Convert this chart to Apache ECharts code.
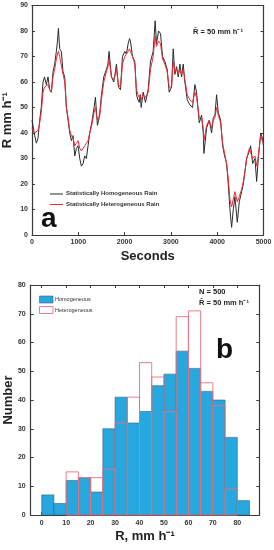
<!DOCTYPE html>
<html><head><meta charset="utf-8">
<script src="https://cdn.jsdelivr.net/npm/echarts@6/dist/echarts.min.js"></script>
<style>html,body{margin:0;padding:0;background:#fff}#c{width:274px;height:550px}</style>
</head><body><div id="c"></div>
<script>
// ---- Panel a: rain-rate time series ----
var times = [0,22,58,95,130,166,200,238,270,310,346,382,418,454,490,526,550,570,598,634,670,707,743,779,815,851,887,923,959,995,1031,1067,1103,1139,1175,1211,1247,1290,1341,1370,1413,1440,1464,1500,1550,1608,1640,1665,1716,1766,1800,1824,1867,1911,1954,2004,2040,2076,2106,2127,2170,2221,2257,2290,2314,2340,2358,2401,2451,2509,2559,2617,2660,2689,2733,2776,2819,2870,2920,2963,3014,3050,3086,3122,3158,3194,3230,3266,3302,3353,3410,3468,3518,3554,3612,3663,3699,3713,3771,3828,3879,3915,3951,3987,4023,4074,4117,4160,4203,4239,4275,4311,4347,4383,4434,4477,4528,4564,4600,4636,4694,4722,4766,4816,4852,4888,4939,4975,5000];
var homogRain = [45,45,39,36,38,45,50,60,62,59,62,57,56,64,67,72,76,81,73,72,64,62,50,45,40,37,39,31,34,35,30,27,28,31,30,35,40,44,50,54,43,45,48,55,62,65,67,72,62,60,64,67,58,57,70,72,71,75,77,76,70,68,55,53,52,55,50,56,52,57,68,72,84,75,80,79,70,68,65,56,58,73,63,66,62,67,62,67,60,53,51,50,59,56,44,47,40,32,42,45,40,46,47,55,48,45,35,31,28,20,10,3,10,15,5,13,17,20,25,30,33,35,28,30,21,30,40,38,35];
var heterogRain = [42,41,40,40,41,44,48,56,58,58,59,57,56,62,65,69,71,72,70,70,63,60,50,46,41,39,38,35,36,37,34,33,33,35,36,37,40,43,48,50,45,46,47,53,60,64,66,69,62,61,63,65,59,58,67,70,70,72,73,72,70,67,57,55,54,55,53,55,54,56,65,70,78,74,76,75,69,67,64,58,58,68,64,65,63,65,63,65,61,55,53,52,56,54,46,46,42,37,43,45,42,45,46,50,47,44,36,32,28,22,14,11,14,17,13,15,18,21,25,30,34,34,30,31,27,31,39,37,36];
var timeTicks = [0,1000,2000,3000,4000,5000];
var rateTicks = [0,10,20,30,40,50,60,70,80,90];

// ---- Panel b: histogram ----
var binStarts = [0,5,10,15,20,25,30,35,40,45,50,55,60,65,70,75,80];
var binWidth = 5;
var homogCounts = [7,4,12,13,8,30,41,32,36,45,49,57,51,43,40,27,5];
var heterogCounts = [0,0,15,13,13,16,32,41,53,48,36,69,71,46,38,9,0];
var rateBinTicks = [0,10,20,30,40,50,60,70,80];
var countTicks = [0,10,20,30,40,50,60,70,80];

var FONT = 'Liberation Sans, Arial, sans-serif';
var AX = '#3a3a3a';
var lblStyle = {color:'#333', fontSize:7, fontWeight:'bold', fontFamily:FONT, formatter:function(v){return String(v);}};
function boxAxis(gridIndex, pos, min, max, custom) {
  var a = {type:'value', gridIndex:gridIndex, position:pos, min:min, max:max,
    axisLine:{show:true, onZero:false, lineStyle:{color:AX, width:1.2}},
    axisTick:{show:true, inside:true, length:3, lineStyle:{color:AX}, customValues:custom},
    axisLabel:{show:false}, splitLine:{show:false}};
  return a;
}

var hist = [];
for (var i = 0; i < binStarts.length; i++) hist.push([binStarts[i], binStarts[i] + binWidth, homogCounts[i], heterogCounts[i]]);

function rectItem(api, valIdx) {
  var x0 = api.value(0), x1 = api.value(1), v = api.value(valIdx);
  var p0 = api.coord([x0, v]), p1 = api.coord([x1, 0]);
  return {x: p0[0], y: p0[1], width: p1[0] - p0[0], height: p1[1] - p0[1]};
}
var nameStyle = {fontSize:13, fontWeight:'bold', color:'#222', fontFamily:FONT};

var chart = echarts.init(document.getElementById('c'), null, {renderer:'canvas'});
var xa0 = boxAxis(0, 'bottom', 0, 5000, timeTicks);
xa0.axisLabel = Object.assign({show:true, margin:4, customValues:timeTicks}, lblStyle);
xa0.name = 'Seconds'; xa0.nameLocation = 'middle'; xa0.nameGap = 15; xa0.nameTextStyle = nameStyle; xa0.nameMoveOverlap = false;
var ya0 = boxAxis(0, 'left', 0, 90, rateTicks);
ya0.axisLabel = Object.assign({show:true, margin:4, customValues:rateTicks}, lblStyle);
ya0.name = 'R mm h\u207B\u00B9'; ya0.nameLocation = 'middle'; ya0.nameGap = 18; ya0.nameTextStyle = nameStyle; ya0.nameMoveOverlap = false;

var xa2 = boxAxis(1, 'bottom', -4.5, 89, rateBinTicks);
xa2.axisLabel = Object.assign({show:true, margin:5, customValues: rateBinTicks}, lblStyle);
xa2.name = 'R, mm h\u207B\u00B9'; xa2.nameLocation = 'middle'; xa2.nameGap = 15; xa2.nameTextStyle = nameStyle; xa2.nameMoveOverlap = false;
var ya2 = boxAxis(1, 'left', 0, 80, countTicks);
ya2.axisLabel = Object.assign({show:true, margin:5, customValues:countTicks}, lblStyle);
ya2.name = 'Number'; ya2.nameLocation = 'middle'; ya2.nameGap = 16; ya2.nameTextStyle = nameStyle; ya2.nameMoveOverlap = false;

var opt = {
  backgroundColor:'#fff',
  animation:false,
  grid:[
    {left:32, right:10.5, top:5.5, bottom:315, containLabel:false, outerBoundsMode:'none'},
    {left:30.7, right:14.7, top:285, bottom:35, containLabel:false, outerBoundsMode:'none'}
  ],
  xAxis:[xa0, boxAxis(0,'top',0,5000,timeTicks), xa2, boxAxis(1,'top',-4.5,89,rateBinTicks)],
  yAxis:[ya0, boxAxis(0,'right',0,90,rateTicks), ya2, boxAxis(1,'right',0,80,countTicks)],
  series:[
    {type:'line', name:'Statistically Homogeneous Rain', xAxisIndex:0, yAxisIndex:0, showSymbol:false,
      data: times.map(function(t,i){return [t, homogRain[i]];}),
      lineStyle:{color:'#2b2b2b', width:1}, z:2},
    {type:'line', name:'Statistically Heterogeneous Rain', xAxisIndex:0, yAxisIndex:0, showSymbol:false,
      data: times.map(function(t,i){return [t, heterogRain[i]];}),
      lineStyle:{color:'#ee2a36', width:1}, z:3},
    {type:'custom', name:'Homogeneous', xAxisIndex:2, yAxisIndex:2, data:hist, z:2,
      renderItem:function(params, api){
        return {type:'rect', shape:rectItem(api, 2),
          style:{fill:'#26a8df', stroke:'#3c5f80', lineWidth:0.6}};
      }},
    {type:'custom', name:'Heterogeneous', xAxisIndex:2, yAxisIndex:2, data:hist, z:3,
      renderItem:function(params, api){
        if (api.value(3) <= 0) return null;
        return {type:'rect', shape:rectItem(api, 3),
          style:{fill:'none', stroke:'#e8707e', lineWidth:0.9}};
      }}
  ],
  graphic:[
    {type:'text', left:193, top:28, style:{text:'R\u0304 = 50 mm h\u207B\u00B9', fontSize:7.5, fontWeight:'bold', fill:'#222', fontFamily:FONT}},
    {type:'line', shape:{x1:50, y1:194, x2:63, y2:194}, style:{stroke:'#2b2b2b', lineWidth:1}},
    {type:'text', left:66, top:190.5, style:{text:'Statistically Homogeneous Rain', fontSize:6, fontWeight:'bold', fill:'#333', fontFamily:FONT}},
    {type:'line', shape:{x1:50, y1:204.5, x2:63, y2:204.5}, style:{stroke:'#ee2a36', lineWidth:1}},
    {type:'text', left:66, top:201, style:{text:'Statistically Heterogeneous Rain', fontSize:6, fontWeight:'bold', fill:'#333', fontFamily:FONT}},
    {type:'text', left:41, top:205, style:{text:'a', fontSize:28, fontWeight:'bold', fill:'#111', fontFamily:FONT}},
    {type:'rect', shape:{x:39.5, y:296, width:13.5, height:7}, style:{fill:'#26a8df', stroke:'#3c5f80', lineWidth:0.6}},
    {type:'text', left:55, top:296.5, style:{text:'Homogeneous', fontSize:5.5, fill:'#333', fontFamily:FONT}},
    {type:'rect', shape:{x:39.5, y:306.5, width:13.5, height:7}, style:{fill:'#fff', stroke:'#e8707e', lineWidth:0.9}},
    {type:'text', left:55, top:307, style:{text:'Heterogeneous', fontSize:5.5, fill:'#333', fontFamily:FONT}},
    {type:'text', left:199, top:288, style:{text:'N = 500', fontSize:7.5, fontWeight:'bold', fill:'#222', fontFamily:FONT}},
    {type:'text', left:199, top:298.5, style:{text:'R\u0304 = 50 mm h\u207B\u00B9', fontSize:7.5, fontWeight:'bold', fill:'#222', fontFamily:FONT}},
    {type:'text', left:216, top:336, style:{text:'b', fontSize:28, fontWeight:'bold', fill:'#111', fontFamily:FONT}}
  ]
};
chart.setOption(opt);
</script></body></html>
